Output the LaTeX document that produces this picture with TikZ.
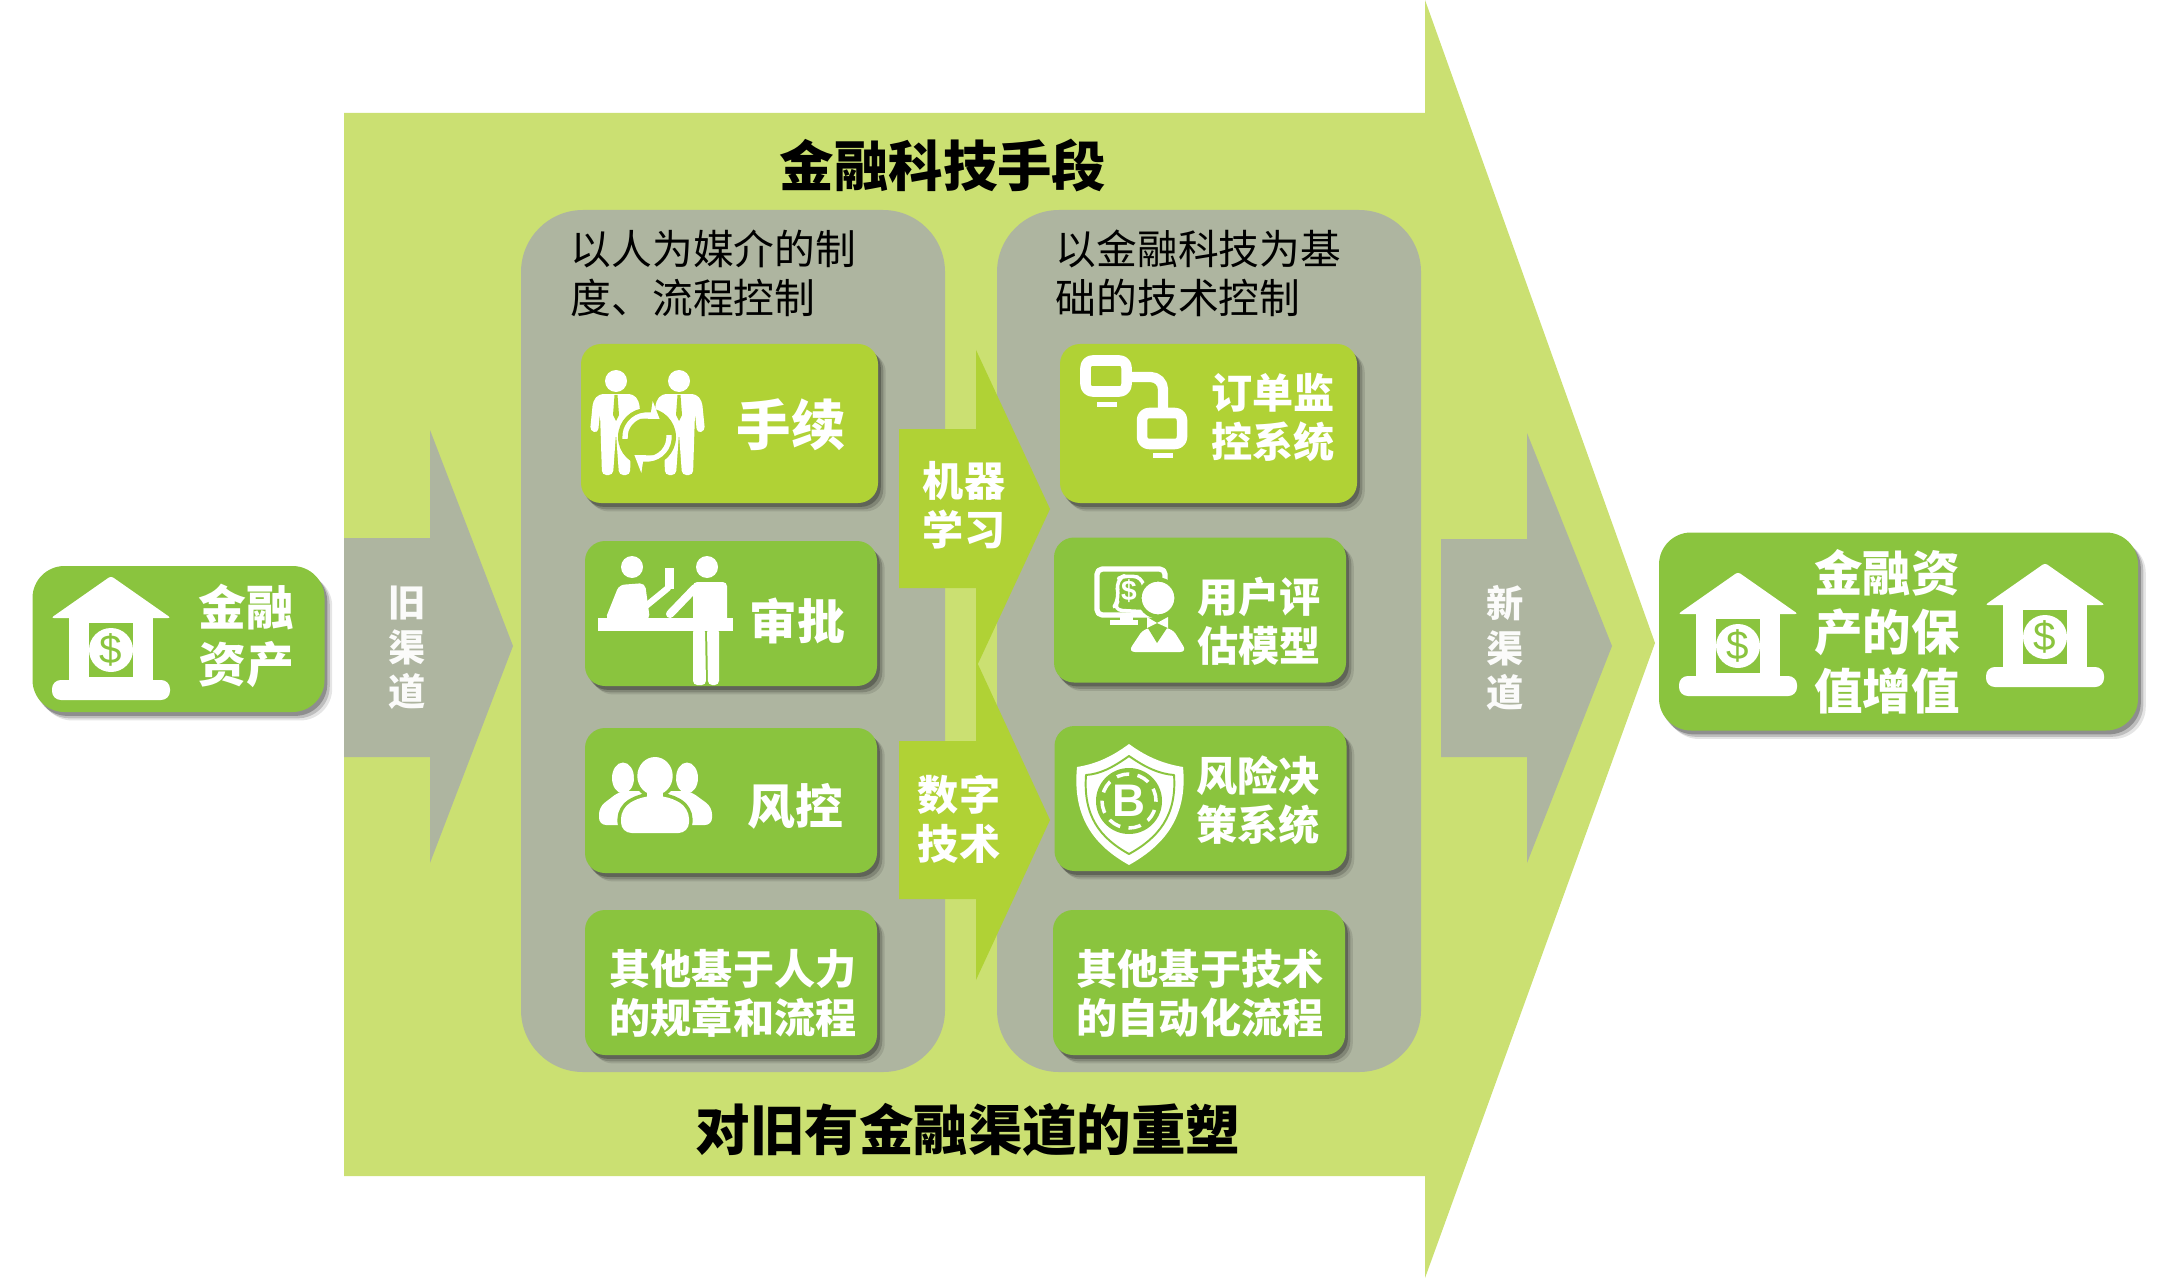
\documentclass[tikz,border=0pt]{standalone}
\usepackage{fontspec}
\setmainfont{Liberation Sans}
\newfontfamily\cjk{Noto Sans CJK SC}
\usetikzlibrary{arrows.meta,shadows}
\definecolor{bandgreen}{HTML}{CBE072}
\definecolor{panelgray}{HTML}{AEB5A0}
\definecolor{limegreen}{HTML}{B0D235}
\definecolor{leafgreen}{HTML}{8AC43E}
\tikzset{
  pics/bank/.style={code={
    \fill[white, rounded corners=0.8pt] (0,0) -- (0.60,-0.42) -- (-0.60,-0.42) -- cycle;
    \fill[white] (-0.42,-0.41) rectangle (0.42,-1.06);
    \fill[white, rounded corners=2.5pt] (-0.59,-1.04) rectangle (0.59,-1.24);
    \fill[leafgreen] (-0.22,-0.47) rectangle (0.22,-1.01);
    \fill[white] (0,-0.74) circle (0.22);
    \node[text=leafgreen, inner sep=0pt, font=\fontsize{11.5}{12}\selectfont] (-sign) at (0,-0.74) {\$};
  }},
  pics/suitman/.style={code={
    \fill[white] (0,0) circle (0.11);
    \fill[white, rounded corners=1.2pt] (-0.17,-0.13) -- (0.17,-0.13) -- (0.23,-0.2)
      -- (0.26,-0.5) -- (0.18,-0.52) -- (0.16,-0.32) -- (0.14,-0.94) -- (0.03,-0.94)
      -- (0,-0.52) -- (-0.03,-0.94) -- (-0.14,-0.94) -- (-0.16,-0.32) -- (-0.18,-0.52)
      -- (-0.26,-0.5) -- (-0.23,-0.2) -- cycle;
    \fill[limegreen] (-0.015,-0.14) -- (0.015,-0.14) -- (0.03,-0.34) -- (0,-0.4) -- (-0.03,-0.34) -- cycle;
  }}
}
\begin{document}
\begin{tikzpicture}[line cap=round, line join=round,
    panel/.style={fill=panelgray, rounded corners=0.62cm, inner sep=0pt, minimum width=4.24cm, minimum height=8.62cm},
    tile/.style={inner sep=0pt, rounded corners=0.2cm,
      general shadow={shadow xshift=2.2pt, shadow yshift=-2.4pt, fill=black, opacity=0.1},
      general shadow={shadow xshift=1.5pt, shadow yshift=-1.8pt, fill=black, opacity=0.17},
      general shadow={shadow xshift=0.8pt, shadow yshift=-1.1pt, fill=black, opacity=0.25}},
    limetile/.style={tile, fill=limegreen, minimum width=2.97cm, minimum height=1.59cm},
    leaftile/.style={tile, fill=leafgreen, minimum width=2.92cm, minimum height=1.45cm},
    assetbox/.style={tile, fill=leafgreen, rounded corners=0.32cm},
    lab/.style={inner sep=0pt, align=center, text=white, font=\cjk\bfseries},
    big/.style={lab, font=\cjk\bfseries\fontsize{13.6}{16.3}\selectfont},
    small/.style={lab, font=\cjk\bfseries\fontsize{11.7}{13.9}\selectfont},
    side/.style={lab, font=\cjk\bfseries\fontsize{10.6}{12.7}\selectfont, text=white!95!panelgray},
    head/.style={inner sep=0pt, align=left, anchor=west, font=\cjk\fontsize{11.6}{14}\selectfont},
    title/.style={inner sep=0pt, font=\cjk\bfseries\fontsize{15.5}{18}\selectfont}]
  \useasboundingbox (0,0) rectangle (21.69,12.78);
  % band and the two channel arrows
  \fill[bandgreen] (3.44,11.65) -- (14.25,11.65) -- (14.25,12.78) -- (16.55,6.35)
    -- (14.25,0) -- (14.25,1.02) -- (3.44,1.02) -- cycle;
  \fill[panelgray] (3.44,7.40) -- (4.30,7.40) -- (4.30,8.48) -- (5.13,6.32)
    -- (4.30,4.15) -- (4.30,5.21) -- (3.44,5.21) -- cycle;
  \fill[panelgray] (14.41,7.39) -- (15.27,7.39) -- (15.27,8.45) -- (16.12,6.32)
    -- (15.27,4.15) -- (15.27,5.21) -- (14.41,5.21) -- cycle;
  \node[side] (oldch) at (4.07,6.30) {旧\\渠\\道};
  \node[side] (newch) at (15.05,6.30) {新\\渠\\道};
  \node[title] (toptitle) at (9.43,11.12) {金融科技手段};
  \node[title] (bottitle) at (9.68,1.48) {对旧有金融渠道的重塑};
  % grey panels
  \node[panel] (pleft) at (7.33,6.37) {};
  \node[panel] (pright) at (12.09,6.37) {};
  \node[head] (hleft) at (5.70,10.05) {以人为媒介的制\\度、流程控制};
  \node[head] (hright) at (10.55,10.05) {以金融科技为基\\础的技术控制};
  % middle arrows
  \fill[limegreen] (8.99,8.49) -- (9.76,8.49) -- (9.76,9.28) -- (10.50,7.69)
    -- (9.76,6.10) -- (9.76,6.90) -- (8.99,6.90) -- cycle;
  \fill[limegreen] (8.99,5.37) -- (9.76,5.37) -- (9.76,6.18) -- (10.50,4.58)
    -- (9.76,2.98) -- (9.76,3.79) -- (8.99,3.79) -- cycle;
  \node[small] (ml) at (9.64,7.73) {机器\\学习};
  \node[small] (dt) at (9.59,4.59) {数字\\技术};
  % left column
  \node[limetile] (shouxu) at (7.295,8.545) {};
  \node[leaftile] (shenpi) at (7.31,6.645) {};
  \node[leaftile] (fengkong) at (7.31,4.775) {};
  \node[leaftile] (qita1) at (7.31,2.955) {};
  \node[lab, font=\cjk\bfseries\fontsize{15.5}{18}\selectfont] (tsx) at (7.91,8.53) {手续};
  \node[big] (tsp) at (7.97,6.57) {审批};
  \node[big] (tfk) at (7.95,4.72) {风控};
  \node[small] (tq1) at (7.33,2.85) {其他基于人力\\的规章和流程};
  % right column
  \node[limetile] (dingdan) at (12.085,8.545) {};
  \node[leaftile] (yonghu) at (12.0,6.68) {};
  \node[leaftile] (juece) at (12.005,4.795) {};
  \node[leaftile] (qita2) at (11.99,2.955) {};
  \node[small] (tdd) at (12.73,8.60) {订单监\\控系统};
  \node[small] (tyh) at (12.59,6.57) {用户评\\估模型};
  \node[small] (tjc) at (12.58,4.78) {风险决\\策系统};
  \node[small] (tq2) at (12.0,2.85) {其他基于技术\\的自动化流程};
  % asset boxes
  \node[assetbox, minimum width=2.92cm, minimum height=1.46cm] (assetL) at (1.785,6.39) {};
  \node[assetbox, minimum width=4.79cm, minimum height=1.98cm] (assetR) at (18.985,6.465) {};
  \node[big] (tal) at (2.46,6.42) {金融\\资产};
  \node[big, font=\cjk\bfseries\fontsize{13.8}{16.8}\selectfont] (tar) at (18.87,6.46) {金融资\\产的保\\值增值};
  \pic (bankA) at (1.11,7.02) {bank};
  \pic (bankB) at (17.38,7.06) {bank};
  \pic (bankC) at (20.45,7.15) {bank};
  % two men and the cycle
  \pic (manA) at (6.16,8.97) {suitman};
  \pic (manB) at (6.79,8.97) {suitman};
  \fill[limegreen] (6.47,8.41) circle (0.29);
  \draw[white, line width=1.5pt, line cap=butt, -{Stealth[length=4.5pt,width=6pt]}] (6.47,8.41) ++(185:0.22) arc (185:55:0.22);
  \draw[white, line width=1.5pt, line cap=butt, -{Stealth[length=4.5pt,width=6pt]}] (6.47,8.41) ++(5:0.22) arc (5:-125:0.22);
  % counter
  \fill[white] (6.32,7.11) circle (0.11);
  \fill[white] (7.07,7.11) circle (0.11);
  \fill[white, rounded corners=1.5pt] (6.05,6.58) -- (6.19,6.93) -- (6.45,6.95) -- (6.50,6.58) -- cycle;
  \draw[white, line width=1.8pt] (6.46,6.72) -- (6.68,6.90);
  \fill[white] (6.65,7.10) rectangle (6.74,6.89);
  \fill[white, rounded corners=1.2pt] (6.93,6.96) -- (7.27,6.96) -- (7.27,6.5) -- (6.93,6.5) -- cycle;
  \draw[white, line width=2.3pt] (6.95,6.90) -- (6.70,6.64);
  \fill[white] (5.98,6.60) rectangle (7.33,6.47);
  \fill[white, rounded corners=1.2pt] (6.93,6.5) -- (7.05,6.5) -- (7.06,5.93) -- (6.93,5.93) -- cycle;
  \fill[white, rounded corners=1.2pt] (7.07,6.5) -- (7.19,6.5) -- (7.19,5.93) -- (7.08,5.93) -- cycle;
  % three people
  \fill[white] (6.23,5.00) ellipse (0.11 and 0.155);
  \fill[white] (6.87,5.00) ellipse (0.11 and 0.155);
  \fill[white, rounded corners=2pt] (5.99,4.53) -- (5.99,4.71) -- (6.2,4.87) -- (6.90,4.87) -- (7.12,4.71) -- (7.12,4.53) -- cycle;
  \draw[leafgreen, line width=2pt] (6.55,5.02) ellipse (0.177 and 0.19);
  \draw[leafgreen, line width=2pt, rounded corners=3pt] (6.21,4.45) -- (6.21,4.70) -- (6.42,4.82) -- (6.68,4.82) -- (6.89,4.70) -- (6.89,4.45) -- cycle;
  \fill[white] (6.55,5.02) ellipse (0.177 and 0.19);
  \fill[white, rounded corners=3pt] (6.21,4.45) -- (6.21,4.70) -- (6.42,4.82) -- (6.68,4.82) -- (6.89,4.70) -- (6.89,4.45) -- cycle;
  \fill[white] (6.47,4.9) rectangle (6.63,4.78);
  % two linked monitors
  \draw[white, line width=3pt, rounded corners=2pt] (10.855,9.175) rectangle (11.265,8.865);
  \fill[white] (10.97,8.76) rectangle (11.17,8.71);
  \draw[white, line width=2.9pt, rounded corners=3.5pt, line cap=butt] (11.28,9.01) -- (11.63,9.01) -- (11.63,8.65);
  \draw[white, line width=3pt, rounded corners=2pt] (11.42,8.65) rectangle (11.82,8.34);
  \fill[white] (11.53,8.25) rectangle (11.73,8.20);
  % monitor and adviser
  \draw[white, line width=1.5pt, rounded corners=1.5pt] (10.97,7.09) -- (11.65,7.09) -- (11.65,6.63) -- (10.97,6.63) -- cycle;
  \fill[white] (11.2,6.62) rectangle (11.33,6.56);
  \fill[white] (11.1,6.58) rectangle (11.38,6.53);
  \draw[white, line width=1pt, rounded corners=3pt] (11.12,6.68) -- (11.2,6.8) -- (11.15,6.98) -- (11.28,7.04) -- (11.46,6.98) -- (11.42,6.8) -- (11.5,6.66) -- cycle;
  \node[inner sep=0pt, text=white, font=\bfseries\fontsize{8}{8}\selectfont] (bagsign) at (11.29,6.87) {\$};
  \draw[leafgreen, line width=1.2pt, fill=white] (11.58,6.80) circle (0.185);
  \fill[white, rounded corners=2pt] (11.28,6.26) -- (11.44,6.5) -- (11.72,6.5) -- (11.87,6.26) -- cycle;
  \fill[leafgreen] (11.46,6.53) -- (11.57,6.35) -- (11.69,6.53) -- cycle;
  \fill[white] (11.47,6.61) -- (11.57,6.55) -- (11.68,6.61) -- (11.68,6.50) -- (11.57,6.55) -- (11.47,6.50) -- cycle;
  % shield with coin
  \fill[white] (11.29,5.34) .. controls (11.10,5.20) and (10.95,5.14) .. (10.77,5.11)
    .. controls (10.72,4.60) and (10.95,4.32) .. (11.29,4.13)
    .. controls (11.63,4.32) and (11.88,4.60) .. (11.83,5.11)
    .. controls (11.65,5.14) and (11.48,5.20) .. (11.29,5.34) -- cycle;
  \draw[leafgreen, line width=0.55pt] (11.29,5.22) .. controls (11.12,5.10) and (11.0,5.04) .. (10.86,5.03)
    .. controls (10.83,4.62) and (11.0,4.40) .. (11.29,4.24)
    .. controls (11.58,4.40) and (11.77,4.62) .. (11.74,5.03)
    .. controls (11.60,5.04) and (11.46,5.10) .. (11.29,5.22) -- cycle;
  \fill[leafgreen] (11.29,4.77) circle (0.33);
  \draw[white, line width=1pt, dash pattern=on 3.6pt off 2.4pt, line cap=butt] (11.29,4.77) circle (0.27);
  \node[inner sep=0pt, text=white, font=\bfseries\fontsize{13}{13}\selectfont] (coinb) at (11.29,4.77) {B};
\end{tikzpicture}
\end{document}
